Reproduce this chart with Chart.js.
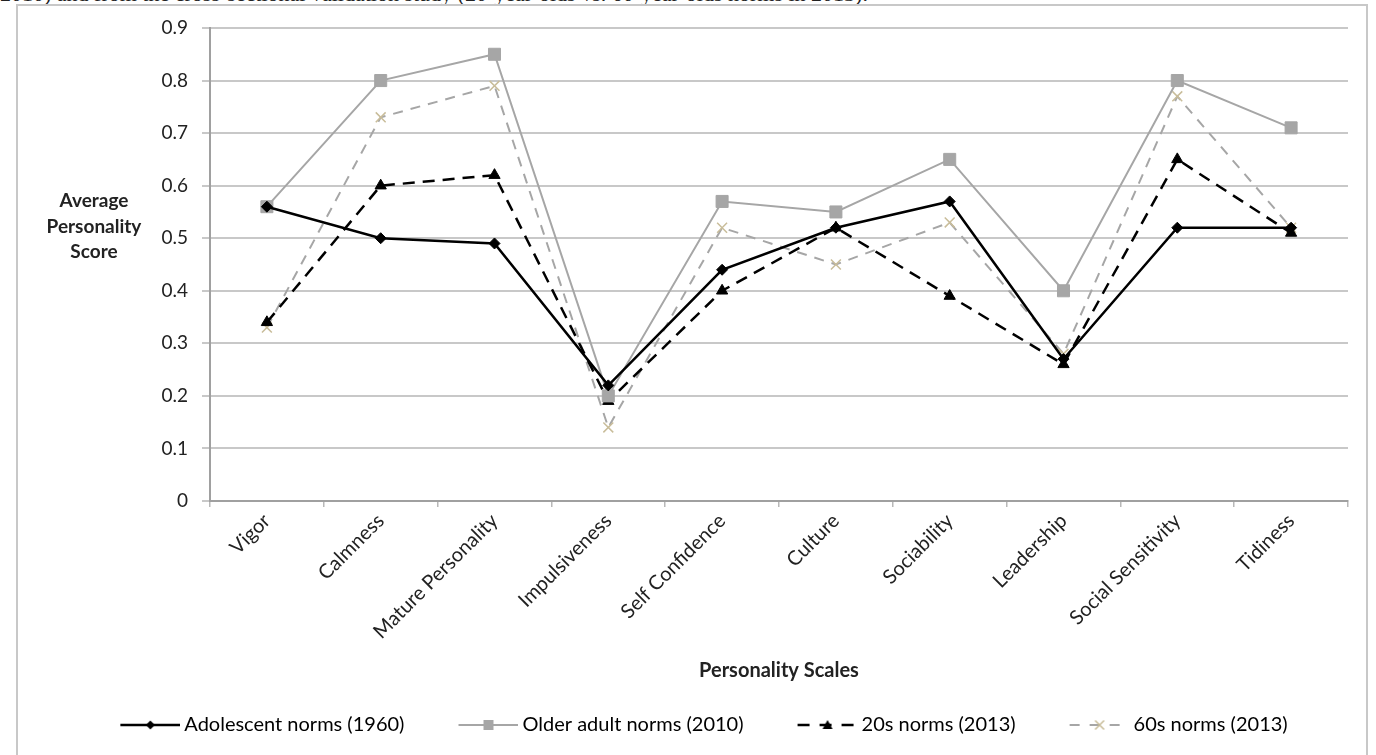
<!DOCTYPE html>
<html>
<head>
<meta charset="utf-8">
<script src="https://cdn.jsdelivr.net/npm/chart.js@4.4.1/dist/chart.umd.min.js"></script>
<style>
  html, body { margin: 0; padding: 0; background: #fff; overflow: hidden; }
  #caption {
    position: absolute; left: 0; top: -19px; white-space: nowrap;
    font-family: "Liberation Serif", serif; font-size: 22px; color: #222;
  }
  #frame {
    position: absolute; left: 16px; top: 4px; width: 1352px; height: 800px;
    border: 2px solid #c8c8c8; box-sizing: border-box;
  }
  #ytitle {
    position: absolute; left: 34px; top: 187px; width: 120px; text-align: center;
    font-family: Lato, "Open Sans", sans-serif; font-weight: bold; font-size: 19px;
    line-height: 25.5px; color: #222;
  }
  #wrap { position: absolute; left: 0; top: 0; width: 1376px; height: 755px; }
</style>
</head>
<body>
<div id="caption">2010) and from the cross-sectional validation study (20-year-olds vs. 60-year-olds norms in 2013).</div>
<div id="frame"></div>
<div id="wrap"><canvas id="chart"></canvas></div>
<div id="ytitle">Average<br>Personality<br>Score</div>
<script>
"use strict";

const scales = [
  "Vigor", "Calmness", "Mature Personality", "Impulsiveness", "Self Confidence",
  "Culture", "Sociability", "Leadership", "Social Sensitivity", "Tidiness",
];
const adolescent1960 = [0.56, 0.50, 0.49, 0.22, 0.44, 0.52, 0.57, 0.27, 0.52, 0.52];
const olderAdult2010 = [0.56, 0.80, 0.85, 0.20, 0.57, 0.55, 0.65, 0.40, 0.80, 0.71];
const twenties2013 = [0.34, 0.60, 0.62, 0.19, 0.40, 0.52, 0.39, 0.26, 0.65, 0.51];
const sixties2013 = [0.33, 0.73, 0.79, 0.14, 0.52, 0.45, 0.53, 0.28, 0.77, 0.52];

const FONT = "Lato, 'Open Sans', sans-serif";
const GREY = "#a6a6a6";
const TAN = "#c9bd9a";

// line + marker picture for the legend (Excel style).
// The legend box is ICON_BOX wide; the picture is drawn centred on it and is a bit
// wider, so the line runs close to the text like in Excel.
const ICON_BOX = 98;
const ICON_OVER = 6;
const ICON_LINE = 60;
function legendIcon(color, dash, style, markerColor, r, lw) {
  const c = document.createElement("canvas");
  c.width = ICON_BOX + 2 * ICON_OVER;
  c.height = 18;
  const ctx = c.getContext("2d");
  const x1 = c.width - ICON_LINE;
  const cx = x1 + ICON_LINE / 2;
  const cy = 9;
  ctx.strokeStyle = color;
  ctx.lineWidth = lw;
  ctx.setLineDash(dash);
  ctx.beginPath();
  ctx.moveTo(x1, cy);
  ctx.lineTo(c.width, cy);
  ctx.stroke();
  ctx.setLineDash([]);
  ctx.fillStyle = markerColor;
  ctx.strokeStyle = markerColor;
  ctx.beginPath();
  if (style === "rectRot") {
    ctx.moveTo(cx, cy - r); ctx.lineTo(cx + r, cy); ctx.lineTo(cx, cy + r); ctx.lineTo(cx - r, cy);
    ctx.closePath(); ctx.fill();
  } else if (style === "rect") {
    ctx.fillRect(cx - r, cy - r, 2 * r, 2 * r);
  } else if (style === "triangle") {
    ctx.moveTo(cx, cy - r); ctx.lineTo(cx + r, cy + r * 0.8); ctx.lineTo(cx - r, cy + r * 0.8);
    ctx.closePath(); ctx.fill();
  } else {
    ctx.lineWidth = 1.5;
    ctx.moveTo(cx - r, cy - r); ctx.lineTo(cx + r, cy + r);
    ctx.moveTo(cx + r, cy - r); ctx.lineTo(cx - r, cy + r);
    ctx.stroke();
  }
  return c;
}

const datasets = [
  {
    label: "Adolescent norms (1960)",
    data: adolescent1960,
    borderColor: "#000",
    backgroundColor: "#000",
    borderWidth: 2.5,
    pointStyle: "rectRot",
    pointRadius: 5.5,
    pointBorderWidth: 1,
    icon: legendIcon("#000", [], "rectRot", "#000", 4.5, 2.5),
  },
  {
    label: "Older adult norms (2010)",
    data: olderAdult2010,
    borderColor: GREY,
    backgroundColor: GREY,
    borderWidth: 2,
    pointStyle: "rect",
    pointRadius: 8.5,
    pointBorderWidth: 1,
    icon: legendIcon(GREY, [], "rect", GREY, 5, 2),
  },
  {
    label: "20s norms (2013)",
    data: twenties2013,
    borderColor: "#000",
    backgroundColor: "#000",
    borderWidth: 2.5,
    borderDash: [12, 8],
    pointStyle: "triangle",
    pointRadius: 6.5,
    pointBorderWidth: 1,
    icon: legendIcon("#000", [12, 10], "triangle", "#000", 5, 2.5),
  },
  {
    label: "60s norms (2013)",
    data: sixties2013,
    borderColor: GREY,
    backgroundColor: TAN,
    borderWidth: 2,
    borderDash: [10, 8],
    pointStyle: "crossRot",
    pointRadius: 7,
    pointBorderColor: TAN,
    pointBorderWidth: 1.5,
    icon: legendIcon(GREY, [10, 10], "crossRot", TAN, 4.5, 2),
  },
];

new Chart(document.getElementById("chart"), {
  type: "line",
  data: { labels: scales, datasets: datasets },
  options: {
    responsive: true,
    maintainAspectRatio: false,
    animation: false,
    layout: { padding: { left: 16, right: 28, top: 28, bottom: 10 } },
    plugins: {
      tooltip: { enabled: false },
      legend: {
        position: "bottom",
        labels: {
          usePointStyle: true,
          pointStyleWidth: ICON_BOX,
          padding: 10,
          font: { family: FONT, size: 20 },
          color: "#222",
          generateLabels(chart) {
            return chart.data.datasets.map((ds, i) => ({
              text: ds.label,
              pointStyle: ds.icon,
              fillStyle: ds.borderColor,
              strokeStyle: ds.borderColor,
              lineWidth: 0,
              hidden: false,
              datasetIndex: i,
            }));
          },
        },
      },
    },
    scales: {
      x: {
        offset: true,
        border: { color: "#a0a0a0", width: 2 },
        grid: { drawOnChartArea: false, offset: true, tickLength: 6, color: "#b8b8b8", lineWidth: 1.5 },
        ticks: {
          minRotation: 45,
          maxRotation: 45,
          padding: 2,
          font: { family: FONT, size: 20 },
          color: "#222",
        },
        title: {
          display: true,
          text: "Personality Scales",
          font: { family: FONT, size: 20, weight: "bold" },
          color: "#222",
          padding: { top: 0, bottom: 22 },
        },
        afterFit(scale) { scale.height = 204; },
      },
      y: {
        min: 0,
        max: 0.9,
        border: { color: "#a0a0a0", width: 2 },
        grid: { color: "#c8c8c8", lineWidth: 2, tickLength: 8 },
        ticks: {
          stepSize: 0.1,
          padding: 14,
          font: { family: FONT, size: 19 },
          color: "#222",
          callback: (v) => (Math.round(v * 10) / 10).toString(),
        },
        afterFit(scale) { scale.width = 194; },
      },
    },
  },
});
</script>
</body>
</html>
